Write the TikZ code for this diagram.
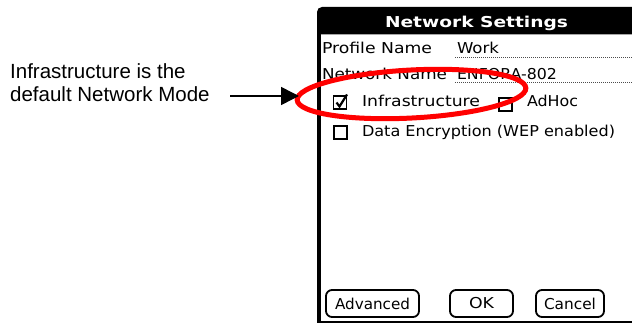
\documentclass[tikz,border=0pt]{standalone}
\usepackage{fontspec}
\usepackage{graphicx}
\setmainfont{Liberation Sans}
\newfontfamily\palmfont{DejaVu Sans}
\usetikzlibrary{shapes.geometric,arrows.meta}
\newcommand\palmtxt[2]{\resizebox{#1pt}{\height}{\palmfont\fontsize{15}{15}\selectfont #2}}
\newcommand\palmbold[2]{\resizebox{#1pt}{\height}{\palmfont\bfseries\fontsize{15}{15}\selectfont #2}}
\tikzset{
  ptext/.style={anchor=base west, inner sep=0pt, outer sep=0pt},
  btn/.style={draw, line width=1.8pt, rounded corners=6pt, minimum height=27pt, inner sep=0pt},
  cbox/.style={draw, line width=1.4pt, minimum size=13pt, inner sep=0pt},
  dots/.style={line width=1pt, dash pattern=on 1pt off 1pt, black!70},
  redring/.style={draw=red, line width=5pt, ellipse, inner sep=0pt},
  arr/.style={line width=1.5pt, -{Triangle[length=18pt,width=18pt]}},
}
\begin{document}
\begin{tikzpicture}[x=1pt,y=-1pt]
\useasboundingbox (0,0) rectangle (632,326);
\fill[white] (0,0) rectangle (632,326);
% frame
\fill (317,34) [rounded corners=5pt] -- (317,7) [sharp corners] -- (632,7) -- (632,34) -- cycle;
\fill (317,20) rectangle (320.5,323);
\fill (317,321) rectangle (632,323);
\draw[black!35, line width=0.6pt] (320.5,34.5) -- (632,34.5);
% title
\node[inner sep=0pt, anchor=base, text=white] (title) at (476.5,28) {\palmbold{183}{Network Settings}};
% rows
\node[ptext] (pn) at (322,54) {\palmtxt{110}{Profile Name}};
\node[ptext] (work) at (457,54) {\palmtxt{42}{Work}};
\coordinate (d1a) at (455,58);
\coordinate (d1b) at (632,58);
\draw[dots] (d1a) -- (d1b);
\node[ptext] (nn) at (322,80) {\palmtxt{125}{Network Name}};
\node[ptext] (enf) at (457,80) {\palmtxt{100}{ENFORA-802}};
\coordinate (d2a) at (455,83);
\coordinate (d2b) at (632,83);
\draw[dots] (d2a) -- (d2b);
% checkboxes
\node[cbox] (cb1) at (340,102.5) {};
\draw[line width=2.2pt, line join=miter] ([shift={(-3.5,0)}]cb1.center) -- ([shift={(-0.5,4)}]cb1.center) -- ([shift={(7,-8)}]cb1.center);
\node[ptext] (infra) at (362,107) {\palmtxt{118}{Infrastructure}};
\node[cbox] (cb2) at (505.5,104.5) {};
\node[ptext] (adhoc) at (527,107) {\palmtxt{51}{AdHoc}};
\node[cbox] (cb3) at (340.5,132.5) {};
\node[ptext] (data) at (362,137) {\palmtxt{253}{Data Encryption (WEP enabled)}};
% buttons
\node[btn, minimum width=93pt] (adv) at (372.5,303.5) {\palmtxt{75}{Advanced}};
\node[btn, minimum width=63pt] (ok) at (481.5,303.5) {\palmtxt{25}{OK}};
\node[btn, minimum width=68pt] (cancel) at (570,303.5) {\palmtxt{52}{Cancel}};
% red ellipse
\node[redring, minimum width=229pt, minimum height=48pt, rotate=3] (ell) at (411.5,94) {};
% label and arrow
\node[anchor=base west, inner sep=0pt, align=left, font=\fontsize{20.5}{23}\selectfont] (lbl) at (10,102) {Infrastructure is the\\default Network Mode};
\coordinate (astart) at (230,96);
\coordinate (aend) at (299,96);
\draw[arr] (astart) -- (aend);
\end{tikzpicture}
\end{document}
